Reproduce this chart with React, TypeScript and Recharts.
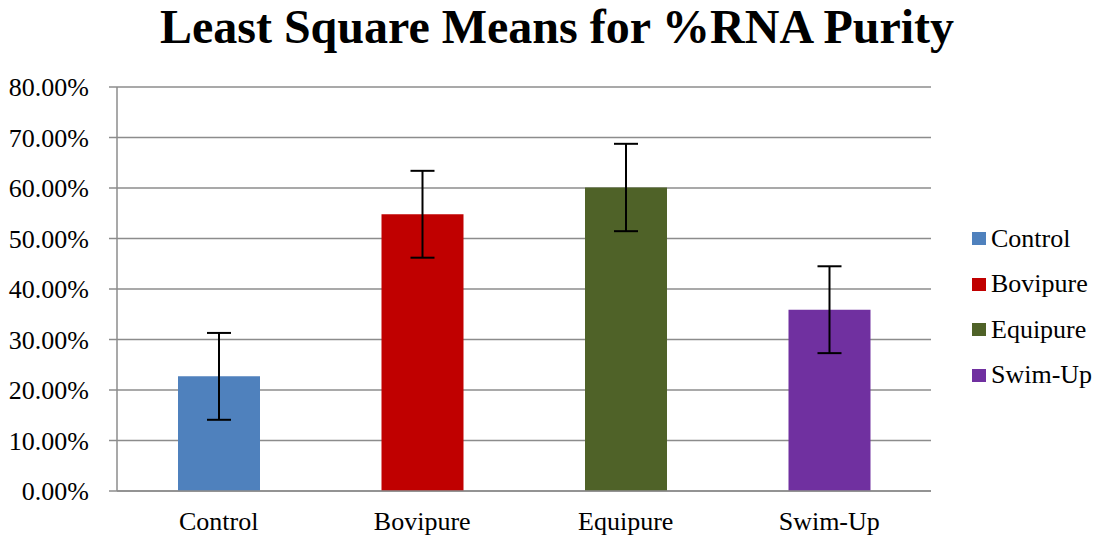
import { BarChart, Bar, XAxis, YAxis, CartesianGrid, ErrorBar, Cell } from 'recharts';

const categories = ['Control', 'Bovipure', 'Equipure', 'Swim-Up'];
const means = [22.7, 54.8, 60.1, 35.9];
const errors = [8.6, 8.6, 8.65, 8.6];
const colors = ['#4F81BD', '#C00000', '#4F6228', '#7030A0'];
const yTicks = [0, 10, 20, 30, 40, 50, 60, 70, 80];
const boundaryTicks = [0, 1, 2, 3, 4];

const FONT = '"Liberation Serif", "Times New Roman", serif';

const data = categories.map((c, i) => ({ name: c, value: means[i], err: errors[i] }));

function LegendBox() {
  return (
    <div
      style={{
        position: 'absolute',
        left: 972,
        top: 216,
        fontFamily: FONT,
        fontSize: 26,
        color: '#000',
      }}
    >
      {categories.map((c, i) => (
        <div key={c} style={{ display: 'flex', alignItems: 'center', height: 45.5 }}>
          <span style={{ width: 14, height: 13, background: colors[i], marginRight: 5, display: 'inline-block' }} />
          <span style={{ lineHeight: '26px' }}>{c}</span>
        </div>
      ))}
    </div>
  );
}

export default function App() {
  return (
    <div style={{ position: 'absolute', left: 0, top: 0, width: 1099, height: 541, background: '#fff' }}>
      <div
        style={{
          position: 'absolute',
          top: 3,
          left: 0,
          width: 1114,
          textAlign: 'center',
          fontFamily: FONT,
          fontWeight: 'bold',
          fontSize: 48,
          lineHeight: '48px',
          color: '#000',
        }}
      >
        Least Square Means for %RNA Purity
      </div>
      <BarChart
        width={1099}
        height={541}
        data={data}
        margin={{ top: 87, right: 168, bottom: 0, left: 0 }}
      >
        <CartesianGrid vertical={false} stroke="#8c8c8c" strokeWidth={1.5} />
        <XAxis
          xAxisId="b"
          type="number"
          domain={[0, 4]}
          ticks={boundaryTicks}
          height={0}
          axisLine={false}
          tickLine={{ stroke: '#8c8c8c', strokeWidth: 1.5 }}
          tickSize={7}
          tickFormatter={() => ''}
        />
        <XAxis
          dataKey="name"
          height={50}
          axisLine={{ stroke: '#8c8c8c', strokeWidth: 1.5 }}
          tickLine={false}
          tickMargin={15}
          tick={{ fontFamily: FONT, fontSize: 26, fill: '#000' }}
        />
        <YAxis
          domain={[0, 80]}
          ticks={yTicks}
          width={117}
          axisLine={{ stroke: '#8c8c8c', strokeWidth: 1.5 }}
          tickLine={{ stroke: '#8c8c8c', strokeWidth: 1.5 }}
          tickSize={8}
          tickMargin={20}
          tickFormatter={(v: number) => `${v.toFixed(2)}%`}
          tick={{ fontFamily: FONT, fontSize: 26, fill: '#000' }}
        />
        <Bar dataKey="value" barSize={82} isAnimationActive={false}>
          {data.map((d, i) => (
            <Cell key={d.name} fill={colors[i]} />
          ))}
          <ErrorBar dataKey="err" width={12} stroke="#000" strokeWidth={2} />
        </Bar>
      </BarChart>
      <LegendBox />
    </div>
  );
}
